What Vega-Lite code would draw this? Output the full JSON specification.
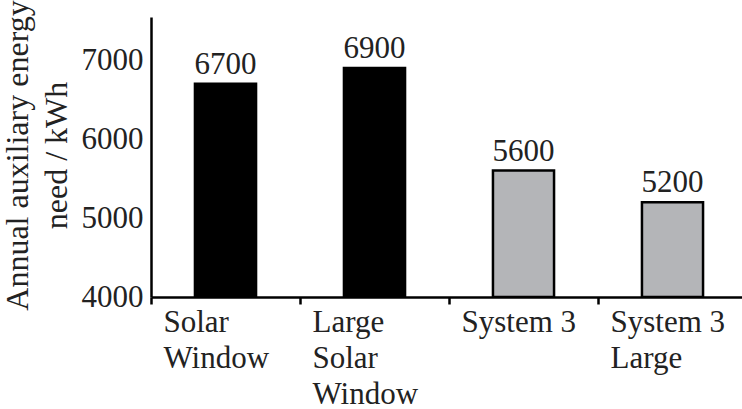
{
  "$schema": "https://vega.github.io/schema/vega-lite/v6.json",
  "autosize": "none",
  "width": 591,
  "height": 280,
  "padding": {"left": 151, "top": 17, "right": 0, "bottom": 112},
  "background": "white",
  "config": {
    "view": {"stroke": null},
    "font": "Liberation Serif",
    "axis": {"labelFont": "Liberation Serif", "titleFont": "Liberation Serif", "labelColor": "#222", "titleColor": "#222", "domainColor": "black", "tickColor": "black", "grid": false}
  },
  "data": {
    "values": [
      {"system": "Solar|Window", "energy": 6700, "group": "solar"},
      {"system": "Large|Solar|Window", "energy": 6900, "group": "solar"},
      {"system": "System 3", "energy": 5600, "group": "sys3"},
      {"system": "System 3|Large", "energy": 5200, "group": "sys3"}
    ]
  },
  "encoding": {
    "x": {
      "field": "system", "type": "nominal", "sort": null,
      "scale": {"paddingInner": 0, "paddingOuter": 0, "range": [0, 596]},
      "axis": {
        "title": null, "labelAngle": 0, "bandPosition": 0,
        "labelAlign": "left", "labelOffset": -62, "labelBaseline": "top",
        "labelFontSize": 31, "labelPadding": 3, "labelLineHeight": 36,
        "labelExpr": "split(datum.label, '|')",
        "domainWidth": 2.5, "tickWidth": 2.5, "tickSize": 7
      }
    },
    "y": {
      "field": "energy", "type": "quantitative",
      "scale": {"domain": [4000, 7545], "nice": false, "zero": false},
      "axis": {
        "title": ["Annual auxiliary energy", "need / kWh"],
        "titleFontSize": 32, "titleFontWeight": "normal", "titleLineHeight": 39,
        "titlePadding": 8, "titleY": 138,
        "values": [4000, 5000, 6000, 7000], "ticks": false,
        "labelFontSize": 31, "labelPadding": 8, "format": "d",
        "domainWidth": 2.5
      }
    }
  },
  "layer": [
    {
      "mark": {"type": "bar", "width": {"band": 0.41}, "stroke": "black", "strokeWidth": 2.5, "clip": true},
      "encoding": {
        "y2": {"datum": 4000},
        "color": {"field": "group", "type": "nominal", "legend": null,
          "scale": {"domain": ["solar", "sys3"], "range": ["#000000", "#b4b5b8"]}}
      }
    },
    {
      "mark": {"type": "text", "baseline": "alphabetic", "dy": -10, "fontSize": 31, "color": "#222", "font": "Liberation Serif"},
      "encoding": {"text": {"field": "energy", "type": "quantitative", "format": "d"}}
    }
  ]
}
